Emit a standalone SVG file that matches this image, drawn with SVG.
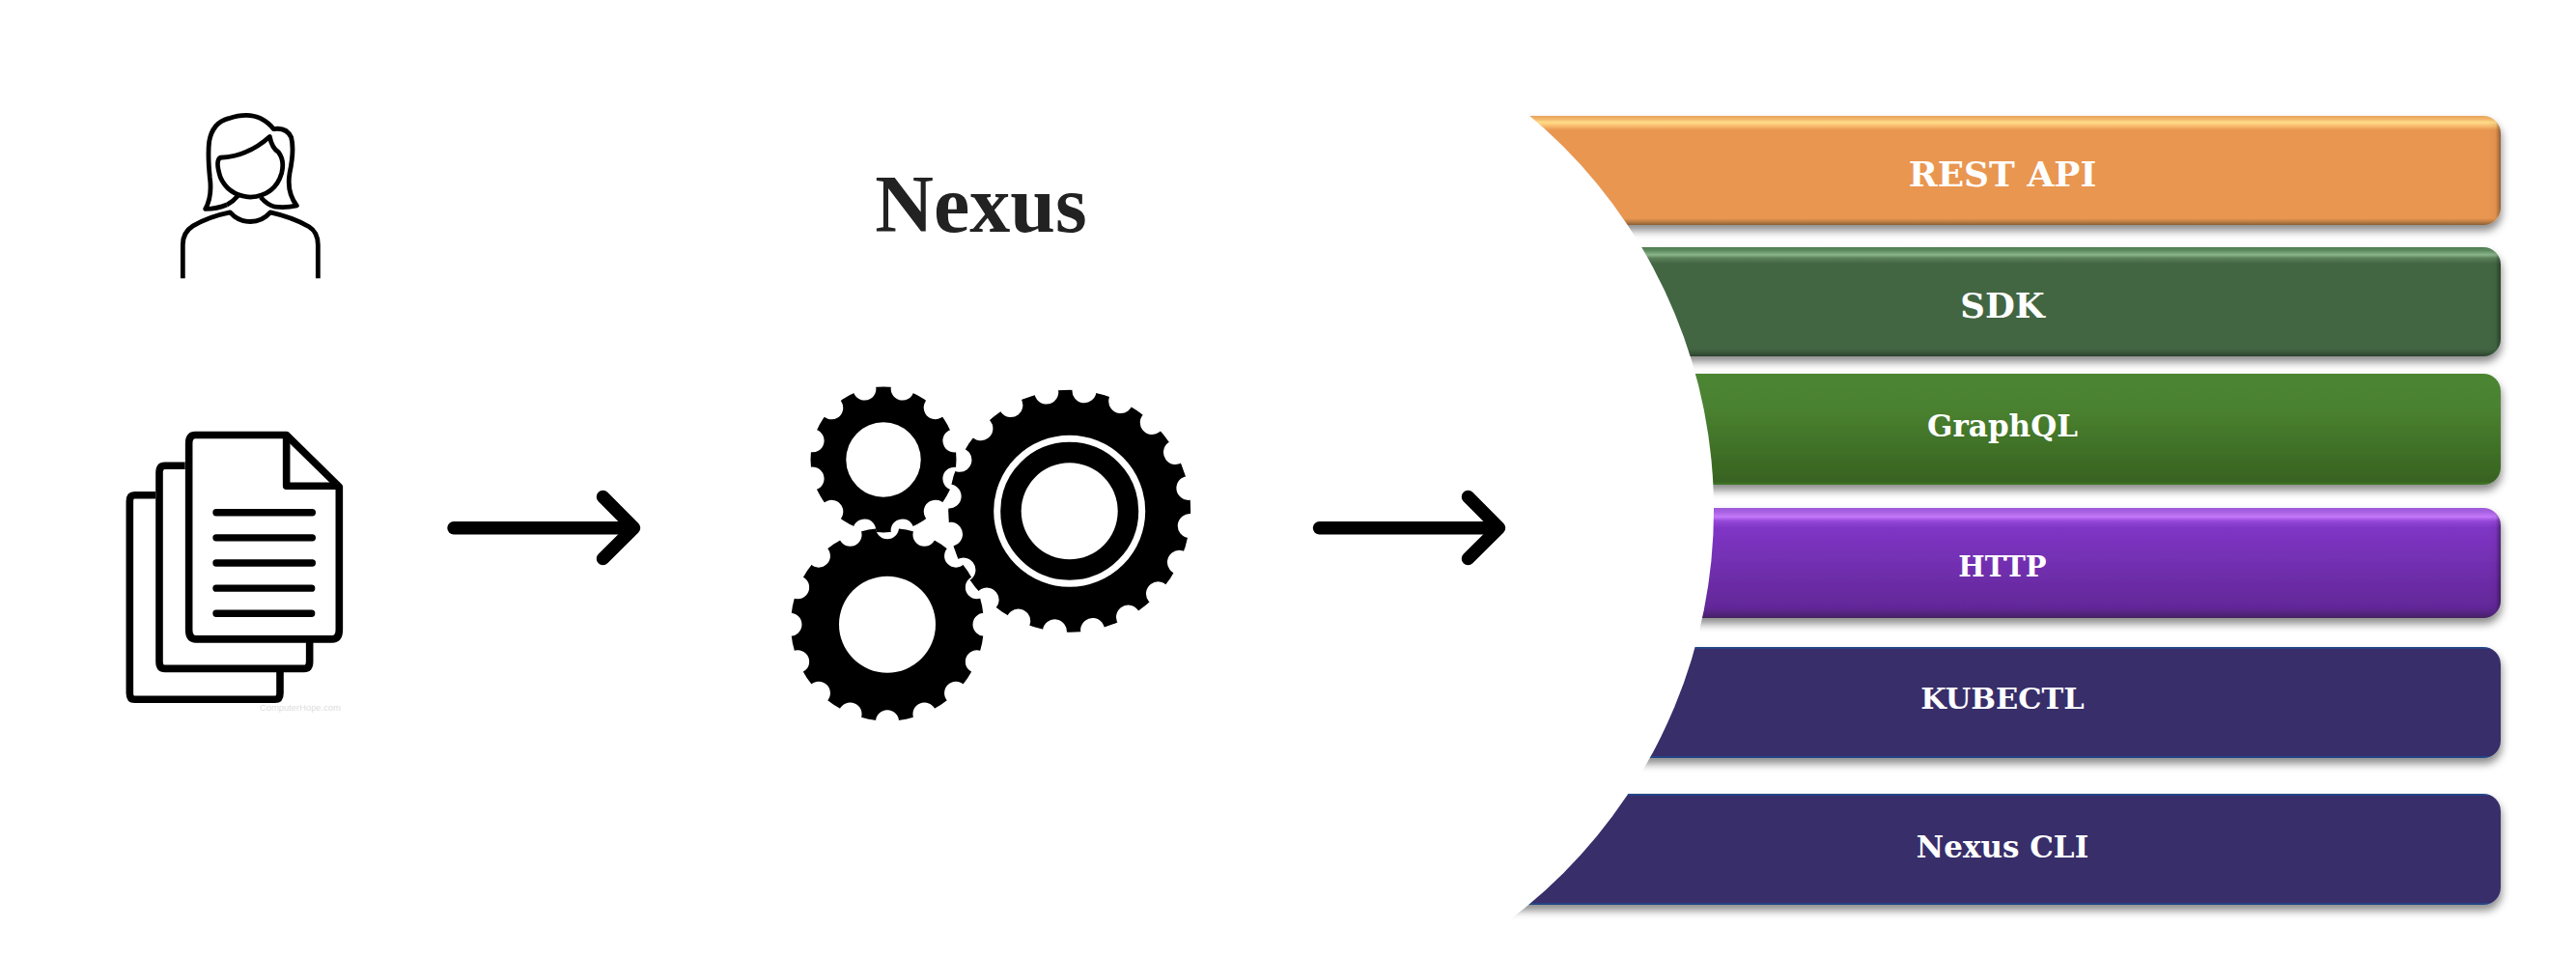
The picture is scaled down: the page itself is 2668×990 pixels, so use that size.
<svg xmlns="http://www.w3.org/2000/svg" width="2668" height="990" viewBox="0 0 2668 990">
<style>
.line{fill:none;stroke:#000;vector-effect:non-scaling-stroke}
.person{stroke-width:4.8;stroke-linejoin:round}
.sheet{stroke-width:7.6;stroke-linejoin:round}
.row{stroke-width:7.4;stroke-linecap:round}
.arrow{fill:none;stroke:#000;stroke-width:13.5;stroke-linecap:round;stroke-linejoin:round}
.lbl{font-family:"DejaVu Serif",serif;font-weight:700;fill:#fff;text-anchor:middle}
.title{font-family:"Liberation Serif",serif;font-weight:700;fill:#222;font-size:84px;text-anchor:middle}
.wm{font-family:"Liberation Sans",sans-serif;fill:#ddd;font-size:9.4px}
.notch{fill:none;stroke:#000;stroke-linecap:round;stroke-dasharray:0 1}
.bar{filter:url(#shadow)}
.edge{fill:url(#edge)}
</style>
<defs>
<filter id="shadow" x="-5%" y="-20%" width="110%" height="150%"><feDropShadow dx="1" dy="6" stdDeviation="4" flood-color="#000" flood-opacity=".45"/></filter>
<linearGradient id="edge" gradientUnits="userSpaceOnUse" x1="2577" y1="0" x2="2590" y2="0"><stop offset="0" stop-color="#000" stop-opacity="0"/><stop offset=".6" stop-color="#000" stop-opacity=".04"/><stop offset="1" stop-color="#000" stop-opacity=".38"/></linearGradient>
<linearGradient id="orange" x1="0" y1="0" x2="0" y2="1"><stop offset="0" stop-color="#E9A35B"/><stop offset=".03" stop-color="#F3B76B"/><stop offset=".06" stop-color="#FFDD8A"/><stop offset=".09" stop-color="#F8BE70"/><stop offset=".13" stop-color="#E99651"/><stop offset=".94" stop-color="#E99651"/><stop offset=".97" stop-color="#BD7E45"/><stop offset="1" stop-color="#8B5E34"/></linearGradient>
<linearGradient id="green" x1="0" y1="0" x2="0" y2="1"><stop offset="0" stop-color="#4E7A50"/><stop offset=".03" stop-color="#5E8B60"/><stop offset=".07" stop-color="#8BB58C"/><stop offset=".1" stop-color="#5A8059"/><stop offset=".15" stop-color="#436643"/><stop offset=".93" stop-color="#436643"/><stop offset=".97" stop-color="#375537"/><stop offset="1" stop-color="#2B402C"/></linearGradient>
<linearGradient id="leaf" x1="0" y1="0" x2="0" y2="1"><stop offset="0" stop-color="#4C8531"/><stop offset=".3" stop-color="#4A8230"/><stop offset=".97" stop-color="#386320"/><stop offset="1" stop-color="#437A2C"/></linearGradient>
<linearGradient id="purple" x1="0" y1="0" x2="0" y2="1"><stop offset="0" stop-color="#9B5BD8"/><stop offset=".03" stop-color="#A55EE0"/><stop offset=".08" stop-color="#C578FA"/><stop offset=".12" stop-color="#9448D8"/><stop offset=".18" stop-color="#7F35C5"/><stop offset=".9" stop-color="#632899"/><stop offset=".96" stop-color="#54247F"/><stop offset="1" stop-color="#43215F"/></linearGradient>
<linearGradient id="navy" x1="0" y1="0" x2="0" y2="1"><stop offset="0" stop-color="#24478A"/><stop offset=".012" stop-color="#24478A"/><stop offset=".018" stop-color="#392F6A"/><stop offset=".982" stop-color="#392F6A"/><stop offset=".988" stop-color="#24478A"/><stop offset="1" stop-color="#24478A"/></linearGradient>
<mask id="mA" maskUnits="userSpaceOnUse" x="820" y="380" width="200" height="200"><circle cx="915" cy="476" r="75.5" fill="#fff"/><circle class="notch" cx="915" cy="476" r="76" pathLength="12" stroke-width="24" transform="rotate(15 915 476)"/><circle cx="915" cy="476" r="38.7" fill="#000"/></mask>
<mask id="mB" maskUnits="userSpaceOnUse" x="800" y="530" width="240" height="240"><circle cx="919" cy="646.7" r="100" fill="#fff"/><circle class="notch" cx="919" cy="646.7" r="100.5" pathLength="16" stroke-width="24"/><circle cx="919" cy="646.7" r="50" fill="#000"/></mask>
<mask id="mC" maskUnits="userSpaceOnUse" x="960" y="390" width="300" height="280"><circle cx="1107.7" cy="529.3" r="125.5" fill="#fff"/><circle class="notch" cx="1107.7" cy="529.3" r="125.5" pathLength="20" stroke-width="25" transform="rotate(7 1107.7 529.3)"/><circle cx="1107.7" cy="529.3" r="75" fill="none" stroke="#000" stroke-width="7"/><circle cx="1107.7" cy="529.3" r="50" fill="#000"/></mask>
</defs>
<rect width="2668" height="990" fill="#fff"/>
<g id="node-rest-api">
<rect class="bar" x="1400" y="120" width="1190" height="113" rx="18" fill="url(#orange)"/>
<rect class="edge" x="1400" y="120" width="1190" height="113" rx="18"/>
<text class="lbl" x="2074" y="192.5" font-size="36">REST API</text>
</g>
<g id="node-sdk">
<rect class="bar" x="1400" y="256" width="1190" height="113" rx="18" fill="url(#green)"/>
<rect class="edge" x="1400" y="256" width="1190" height="113" rx="18"/>
<text class="lbl" x="2074" y="329" font-size="35.5">SDK</text>
</g>
<g id="node-graphql">
<rect class="bar" x="1400" y="387" width="1190" height="115" rx="18" fill="url(#leaf)"/>
<text class="lbl" x="2074" y="452" font-size="31">GraphQL</text>
</g>
<g id="node-http">
<rect class="bar" x="1400" y="526" width="1190" height="114" rx="18" fill="url(#purple)"/>
<rect class="edge" x="1400" y="526" width="1190" height="114" rx="18"/>
<text class="lbl" x="2074" y="596.5" font-size="29">HTTP</text>
</g>
<g id="node-kubectl">
<rect class="bar" x="1400" y="670" width="1190" height="115" rx="18" fill="url(#navy)"/>
<text class="lbl" x="2074" y="734" font-size="30.5">KUBECTL</text>
</g>
<g id="node-nexus-cli">
<rect class="bar" x="1400" y="822" width="1190" height="115" rx="18" fill="url(#navy)"/>
<text class="lbl" x="2074" y="887.5" font-size="31">Nexus CLI</text>
</g>
<circle id="white-arc" cx="1243" cy="528" r="532" fill="#fff"/>
<g id="person" transform="translate(100 90) scale(.33333 .4359)">
<path class="line person" d="M268,455 V375 Q268,345 300,330 Q350,308 415,298 Q440,320 478,320 Q515,320 540,298 Q610,310 660,332 Q688,345 688,375 V455"/>
<path class="line person" d="M405,280 Q375,290 338,290 Q360,260 352,215 Q345,160 350,130 Q360,85 410,75 Q470,60 510,75 Q535,85 550,100 Q590,95 605,120 Q615,150 600,205 Q590,250 622,282 Q590,288 555,285 Q530,280 510,262"/>
<path class="line person" d="M405,280 Q425,272 440,258"/>
<path class="line person" d="M385,168 Q470,165 538,118 Q545,145 565,155 Q585,175 575,205 Q555,258 478,262 Q410,258 385,215 Q368,175 385,168 Z"/>
</g>
<g id="documents">
<g transform="translate(100 90) scale(.33333 .4359)">
<path class="line sheet" d="M183,970 H118 Q103,970 103,985 V1440 Q103,1455 118,1455 H555 Q570,1455 570,1440 V1385"/>
<path class="line sheet" d="M275,900 H212 Q195,900 195,917 V1365 Q195,1382 212,1382 H645 Q662,1382 662,1365 V1315"/>
<path class="line sheet" d="M307,827 H590 L754,950 V1290 Q754,1312 732,1312 H309 Q287,1312 287,1290 V847 Q287,827 307,827 Z"/>
<path class="line sheet" d="M590,827 V948 H754"/>
<path class="line row" d="M372,1011 H670 M372,1071 H670 M372,1131 H670 M372,1191 H668 M372,1251 H668"/>
</g>
<text class="wm" x="269" y="736">ComputerHope.com</text>
</g>
<g id="connectors">
<path class="arrow" d="M470,546.7 H652"/>
<path class="arrow" d="M624.5,514.5 L656.5,546.7 L624.5,578.5"/>
<path class="arrow" d="M1366.5,546.7 H1548"/>
<path class="arrow" d="M1520.5,514.5 L1552.5,546.7 L1520.5,578.5"/>
</g>
<g id="title"><text class="title" x="1016" y="240">Nexus</text></g>
<g id="gears">
<circle cx="915" cy="476" r="76" fill="#000" mask="url(#mA)"/>
<circle cx="919" cy="646.7" r="101" fill="#000" mask="url(#mB)"/>
<circle cx="1107.7" cy="529.3" r="126" fill="#000" mask="url(#mC)"/>
</g>
</svg>
